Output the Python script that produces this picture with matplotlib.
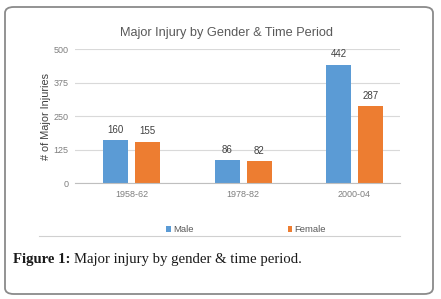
import matplotlib
matplotlib.use('Agg')
import matplotlib.pyplot as plt
import numpy as np
from matplotlib.patches import FancyBboxPatch
from matplotlib.lines import Line2D

# data
periods = ['1958-62', '1978-82', '2000-04']
male = [160, 86, 442]
female = [155, 82, 287]
yticks = [0, 125, 250, 375, 500]
yticklabels = ['0', '125', '250', '375', '500']

blue = '#5B9BD5'
orange = '#ED7D31'

plt.rcParams['font.family'] = ['Liberation Sans', 'DejaVu Sans']

fig = plt.figure(figsize=(4.41, 2.99), dpi=100)
W, H = 441, 299

# outer rounded frame
frame = FancyBboxPatch((5 / W, 1 - 294 / H), 428 / W, 287 / H,
                       boxstyle='round,pad=0,rounding_size=0.02',
                       transform=fig.transFigure, fill=False,
                       edgecolor='#8a8a8a', linewidth=1.3)
fig.patches.append(frame)

ax = fig.add_axes([75 / W, 1 - 183.3 / H, 325 / W, 134 / H])
x = np.arange(len(periods))
w = 0.224
off = 0.1435
b1 = ax.bar(x - off, male, w, color=blue, label='Male')
b2 = ax.bar(x + off, female, w, color=orange, label='Female')

for bars in (b1, b2):
    for r in bars:
        ax.annotate(str(int(r.get_height())),
                    (r.get_x() + r.get_width() / 2, r.get_height()),
                    xytext=(0, 4), textcoords='offset points',
                    ha='center', va='bottom', fontsize=7, color='#404040')

ax.set_xlim(-0.507, 2.408)
ax.set_ylim(0, 500)
ax.set_yticks(yticks)
ax.set_yticklabels(yticklabels)
ax.set_xticks(x)
ax.set_xticklabels(periods)
ax.tick_params(axis='both', length=0, labelsize=6.5, labelcolor='#7f7f7f')
ax.tick_params(axis='y', pad=4.5)
ax.tick_params(axis='x', pad=5)
ax.grid(axis='y', color='#d9d9d9', linewidth=0.8)
ax.set_axisbelow(True)
for s in ['top', 'right', 'left']:
    ax.spines[s].set_visible(False)
ax.spines['bottom'].set_color('#bfbfbf')
ax.spines['bottom'].set_linewidth(0.8)
ax.set_ylabel('# of Major Injuries', fontsize=7.8, color='#404040', va='center')
ax.yaxis.set_label_coords(-0.09, 0.5)

fig.text(226 / W, 1 - 33 / H, 'Major Injury by Gender & Time Period',
         ha='center', va='center', fontsize=9.2, color='#595959')

fig.legend(handles=[b1, b2], labels=['Male', 'Female'], ncol=2,
           loc='center', bbox_to_anchor=(246 / W, 1 - 230 / H),
           frameon=False, fontsize=6.8, labelcolor='#595959',
           handlelength=0.5, handleheight=0.5, handletextpad=0.2,
           columnspacing=10)

fig.lines.append(Line2D([39 / W, 400 / W], [1 - 236 / H, 1 - 236 / H],
                        transform=fig.transFigure, color='#d0d0d0', linewidth=0.8))

# caption: bold label then regular text
t1 = fig.text(13 / W, 1 - 260 / H, 'Figure 1:', ha='left', va='center',
              fontsize=10.6, fontweight='bold', family='Liberation Serif', color='#1a1a1a')
fig.canvas.draw()
bb = t1.get_window_extent(fig.canvas.get_renderer())
fig.text(bb.x1 / W + 3 / W, 1 - 260 / H, 'Major injury by gender & time period.',
         ha='left', va='center', fontsize=10.6, family='Liberation Serif', color='#1a1a1a')

fig.savefig('out.png', dpi=100)
